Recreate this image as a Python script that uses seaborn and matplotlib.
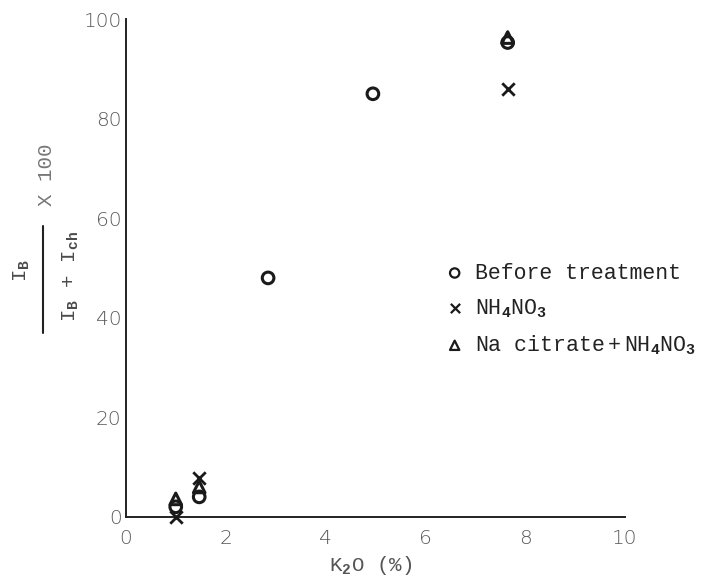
import matplotlib
matplotlib.use("Agg")
import matplotlib.pyplot as plt
from matplotlib.lines import Line2D
import seaborn as sns
import pandas as pd

# K2O content (%) and relative intensity values
k2o_before = [1.0, 1.47, 2.85, 4.95, 7.65]
val_before = [2.0, 4.0, 48.0, 85.0, 95.3]

k2o_nh4 = [1.0, 1.47, 7.65]
val_nh4 = [0.0, 7.8, 86.0]

k2o_citrate = [1.0, 1.47, 7.65]
val_citrate = [3.6, 6.0, 96.3]

x_ticks = [0, 2, 4, 6, 8, 10]
y_ticks = [0, 20, 40, 60, 80, 100]

sns.set_theme(style="white")
plt.rcParams["mathtext.fontset"] = "custom"
plt.rcParams["mathtext.rm"] = "Liberation Mono"
plt.rcParams["mathtext.it"] = "Liberation Mono"
plt.rcParams["mathtext.bf"] = "Liberation Mono:bold"

mono = ["Liberation Mono", "DejaVu Sans Mono"]

fig, ax = plt.subplots(figsize=(7.03, 5.8), dpi=100)
fig.subplots_adjust(left=0.179, right=0.889, bottom=0.109, top=0.967)

series = [
    (k2o_before, val_before, "o", "Before treatment"),
    (k2o_nh4, val_nh4, "x", r"NH$_\mathbf{4}$NO$_\mathbf{3}$"),
    (k2o_citrate, val_citrate, "^", r"Na citrate$\;$+$\;$NH$_\mathbf{4}$NO$_\mathbf{3}$"),
]

for xs, ys, mk, lab in series:
    df = pd.DataFrame({"k2o": xs, "ratio": ys})
    if mk == "x":
        sns.scatterplot(data=df, x="k2o", y="ratio", marker=mk, color="#1a1a1a",
                        s=80, linewidth=2.0, label=lab, ax=ax, clip_on=False, zorder=3)
    else:
        sns.scatterplot(data=df, x="k2o", y="ratio", marker=mk, facecolor="none",
                        edgecolor="#1a1a1a", s=70, linewidth=2.2, label=lab, ax=ax,
                        clip_on=False, zorder=3)

ax.set_xlim(0, 10)
ax.set_ylim(0, 100)
ax.set_xticks(x_ticks)
ax.set_yticks(y_ticks)
ax.tick_params(axis="both", direction="in", length=7, width=1.2, color="#222222",
               labelsize=14.5, labelcolor="#5a5a5a")
ax.tick_params(axis="y", pad=3)
ax.tick_params(axis="x", pad=9)
for t in ax.get_xticklabels() + ax.get_yticklabels():
    t.set_fontweight("light")

sns.despine(ax=ax)
for side in ["left", "bottom"]:
    ax.spines[side].set_color("#222222")
    ax.spines[side].set_linewidth(1.4)

ax.set_xlabel(r"K$_\mathbf{2}$O (%)", fontsize=15, family=mono, color="#555555")
ax.xaxis.set_label_coords(0.49, -0.075)
ax.set_ylabel("")

# y label: a stacked fraction  I_B / (I_B + I_ch)  x 100, rotated
lab_col = "#4a4a4a"
fig.text(0.031, 0.534, r"I$_\mathbf{B}$", rotation=90, ha="center", va="center",
         fontsize=15, family=mono, color=lab_col)
fig.text(0.101, 0.524, r"I$_\mathbf{B}$ + I$_\mathbf{ch}$", rotation=90, ha="center",
         va="center", fontsize=15, family=mono, color=lab_col)
fig.add_artist(Line2D([0.061, 0.061], [0.426, 0.610], transform=fig.transFigure,
                      color="#222222", linewidth=1.5))
fig.text(0.066, 0.698, "X 100", rotation=90, ha="center", va="center",
         fontsize=15, family=mono, color="#777777")

leg = ax.legend(loc="upper left", bbox_to_anchor=(0.62, 0.528), frameon=False,
                handletextpad=0.45, handlelength=1.0, labelspacing=0.62,
                borderaxespad=0, prop={"family": mono, "size": 15.5})
for h in leg.legend_handles:
    h.set_sizes([45])
    h.set_linewidth(1.6)
for t in leg.get_texts():
    t.set_color("#222222")

fig.savefig("out.png", dpi=100, facecolor="white")
